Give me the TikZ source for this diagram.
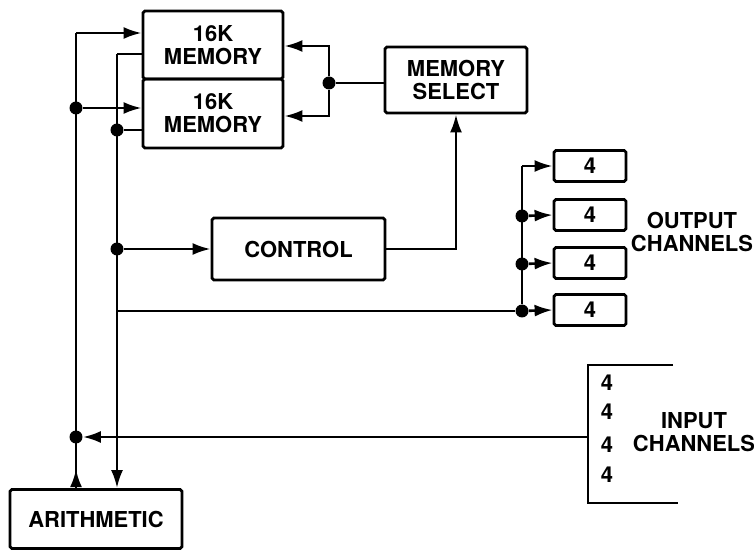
\documentclass[tikz,border=0pt]{standalone}
\usepackage{fontspec}
\setmainfont{TeX Gyre Heros}
\usetikzlibrary{arrows.meta,positioning}
\tikzset{
  blk/.style={
    draw,
    line width=1.6pt,
    rounded corners=1pt,
    inner sep=0pt,
    align=center,
    font=\bfseries\fontsize{12.5}{13}\selectfont
  },
  lbl/.style={align=center, inner sep=0pt, font=\bfseries\fontsize{12.5}{13}\selectfont},
  wire/.style={line width=1.5pt},
  arrow/.style={wire, -{Latex[length=3.6mm,width=2.4mm]}},
  dot/.style={circle, fill, inner sep=0pt, minimum size=0.26cm}
}

\begin{document}
\begin{tikzpicture}[x=0.02cm, y=-0.02cm]
        \useasboundingbox (0,0) rectangle (754,550);
        % blocks
        \node[blk, minimum width=2.8cm, minimum height=1.36cm] (mem1) at (213,45) {16K\\MEMORY};
        \node[blk, minimum width=2.8cm, minimum height=1.38cm] (mem2) at (213,113.5) {16K\\MEMORY};
        \node[blk, minimum width=2.84cm, minimum height=1.32cm] (memsel) at (456,80) {MEMORY\\SELECT};
        \node[blk, minimum width=3.46cm, minimum height=1.24cm] (control) at (298.5,249) {CONTROL};
        \node[blk, minimum width=3.44cm, minimum height=1.18cm] (arith) at (96,519) {ARITHMETIC};
        \foreach \i/\y in {1/166,2/215,3/263,4/310}
          \node[blk, minimum width=1.44cm, minimum height=0.62cm] (out\i) at (590,\y) {4};
        \node[lbl] (outlbl) at (692,232) {OUTPUT\\CHANNELS};
        \node[lbl] (inlbl) at (694,432) {INPUT\\CHANNELS};
        \foreach \i/\y in {1/383,2/412,3/445,4/475}
          \node[lbl] (in\i) at (607,\y) {4};
        % junction dots
        \node[dot] (d1) at (76,108) {};
        \node[dot] (d2) at (117,130) {};
        \node[dot] (d3) at (117,249) {};
        \node[dot] (d4) at (329,83) {};
        \node[dot] (d5) at (522,216) {};
        \node[dot] (d6) at (522,264) {};
        \node[dot] (d7) at (522,311) {};
        \node[dot] (d8) at (76,437) {};
        \coordinate (ltop) at (76,33);
        \coordinate (rtop) at (117,54);
        \coordinate (s1) at (329,46);
        \coordinate (s2) at (329,116);
        \coordinate (otop) at (522,166);
        \coordinate (brtop) at (673,365);
        \coordinate (brbot) at (678,503);
        \coordinate (inbus) at (588,437);
        % left buses
        \draw[wire] (ltop) -- (arith.north -| ltop);
        \draw[arrow] (ltop) -- (mem1.west |- ltop);
        \draw[arrow] (d1) -- (mem2.west |- d1);
        \draw[arrow] (arith.north -| ltop) -- ++(0,-19);
        \draw[wire] (mem1.west |- rtop) -- (rtop);
        \draw[arrow] (rtop) -- (arith.north -| rtop);
        \draw[wire] (mem2.west |- d2) -- (d2);
        \draw[arrow] (d3) -- (control.west);
        % memory select
        \draw[wire] (d4 -| memsel.west) -- (d4);
        \draw[arrow] (d4) -- (s1) -- (s1 -| mem1.east);
        \draw[arrow] (d4) -- (s2) -- (s2 -| mem2.east);
        \draw[arrow] (control.east) -| (memsel.south);
        % output channels
        \draw[wire] (d7 -| d3) -- (d7);
        \draw[wire] (otop) -- (d7);
        \draw[arrow] (otop) -- (out1.west);
        \draw[arrow] (d5) -- (out2.west);
        \draw[arrow] (d6) -- (out3.west);
        \draw[arrow] (d7) -- (out4.west);
        % input channels
        \draw[wire] (brtop) -- (brtop -| inbus) -- (brbot -| inbus) -- (brbot);
        \draw[arrow] (inbus) -- (d8);
      \end{tikzpicture}
\end{document}
